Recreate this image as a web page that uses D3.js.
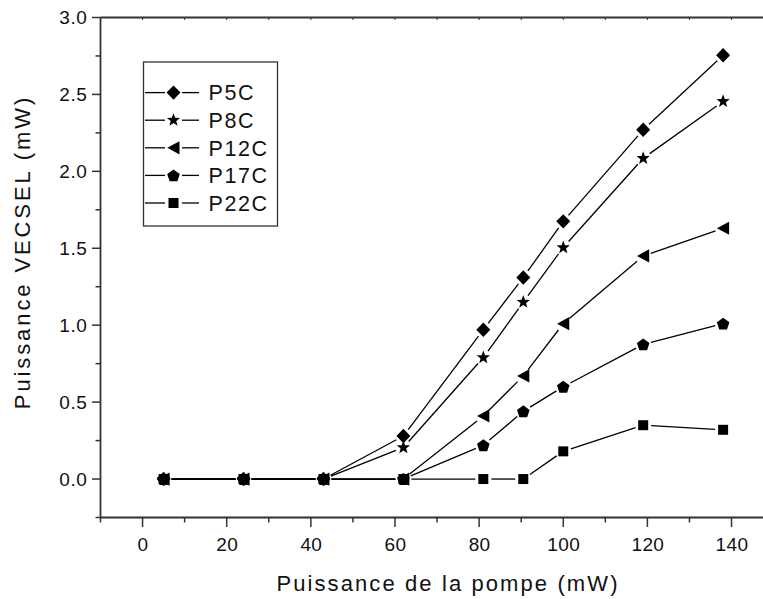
<!DOCTYPE html>
<html>
<head>
<meta charset="utf-8">
<script src="https://cdn.jsdelivr.net/npm/d3@7"></script>
<style>
html,body{margin:0;padding:0;background:#fff;}
svg{display:block;}
text{font-family:"Liberation Sans",Arial,sans-serif;fill:#111;}
</style>
</head>
<body>
<svg id="chart" width="763" height="599"></svg>
<script>
// ---- data ----
const pump = [5, 24, 43, 62, 81, 90.5, 100, 119, 138];
const seriesNames = ["P5C", "P8C", "P12C", "P17C", "P22C"];
const p5c  = [0, 0, 0, 0.28, 0.97, 1.31, 1.675, 2.27, 2.755];
const p8c  = [0, 0, 0, 0.205, 0.79, 1.15, 1.505, 2.085, 2.455];
const p12c = [0, 0, 0, 0, 0.41, 0.67, 1.01, 1.45, 1.63];
const p17c = [0, 0, 0, 0, 0.22, 0.44, 0.60, 0.875, 1.01];
const p22c = [0, 0, 0, 0, 0, 0, 0.18, 0.35, 0.32];
const seriesValues = [p5c, p8c, p12c, p17c, p22c];
const xTicks = [0, 20, 40, 60, 80, 100, 120, 140];
const yTicks = [0.0, 0.5, 1.0, 1.5, 2.0, 2.5, 3.0];

// ---- layout ----
const svg = d3.select("#chart");
const x = d3.scaleLinear().domain([-10, 150]).range([100.5, 773.6]);
const y = d3.scaleLinear().domain([-0.25, 3.0]).range([517.5, 17.5]);
const axisColor = "#333";

// symbols
const star = (() => {
  const pts = [];
  for (let i = 0; i < 10; i++) {
    const r = i % 2 === 0 ? 7 : 2.9;
    const a = -Math.PI / 2 + i * Math.PI / 5;
    pts.push([r * Math.cos(a), r * Math.sin(a)]);
  }
  return "M" + pts.map(p => p[0].toFixed(2) + "," + p[1].toFixed(2)).join("L") + "Z";
})();
const pentagon = (() => {
  const pts = [];
  for (let i = 0; i < 5; i++) {
    const a = -Math.PI / 2 + i * 2 * Math.PI / 5;
    pts.push([6.6 * Math.cos(a), 6.6 * Math.sin(a) + 0.6]);
  }
  return "M" + pts.map(p => p[0].toFixed(2) + "," + p[1].toFixed(2)).join("L") + "Z";
})();
const symbols = [
  "M0,-7.2L7,0L0,7.2L-7,0Z",
  star,
  "M-6.2,0L6,-6.6L6,6.6Z",
  pentagon,
  "M-5,-5L5,-5L5,5L-5,5Z"
];

// ---- axes ----
// bottom axis
const gx = svg.append("g").attr("transform", `translate(0,${y(-0.25)})`);
gx.append("line").attr("x1", x(-10)).attr("x2", x(150)).attr("stroke", axisColor).attr("stroke-width", 1.8);
gx.selectAll(".minor").data(d3.range(-10, 151, 10).filter(v => v % 20 !== 0)).join("line")
  .attr("x1", d => x(d)).attr("x2", d => x(d)).attr("y1", 0).attr("y2", 5)
  .attr("stroke", axisColor).attr("stroke-width", 1.5);
gx.selectAll(".major").data(xTicks).join("line")
  .attr("x1", d => x(d)).attr("x2", d => x(d)).attr("y1", 0).attr("y2", 9.5)
  .attr("stroke", axisColor).attr("stroke-width", 1.5);
gx.selectAll("text").data(xTicks).join("text")
  .attr("x", d => x(d) + 0.5).attr("y", 33.5)
  .attr("text-anchor", "middle").attr("font-size", 19).attr("letter-spacing", 0.4)
  .text(d => d);

// top axis
const gt = svg.append("g").attr("transform", `translate(0,${y(3)})`);
gt.append("line").attr("x1", x(-10)).attr("x2", x(150)).attr("stroke", axisColor).attr("stroke-width", 1.8);
gt.selectAll(".t").data(d3.range(0, 151, 10)).join("line")
  .attr("x1", d => x(d)).attr("x2", d => x(d)).attr("y1", 0).attr("y2", 2.5)
  .attr("stroke", axisColor).attr("stroke-width", 1);

// left axis
const gy = svg.append("g").attr("transform", `translate(${x(-10)},0)`);
gy.append("line").attr("y1", y(-0.25)).attr("y2", y(3)).attr("stroke", axisColor).attr("stroke-width", 1.8);
gy.selectAll(".minor").data(d3.range(-0.25, 3.0, 0.5)).join("line")
  .attr("x1", 0).attr("x2", -5).attr("y1", d => y(d)).attr("y2", d => y(d))
  .attr("stroke", axisColor).attr("stroke-width", 1.5);
gy.selectAll(".major").data(yTicks).join("line")
  .attr("x1", 0).attr("x2", -8.5).attr("y1", d => y(d)).attr("y2", d => y(d))
  .attr("stroke", axisColor).attr("stroke-width", 1.5);
gy.selectAll("text").data(yTicks).join("text")
  .attr("x", -13).attr("y", d => y(d)).attr("dy", "0.36em")
  .attr("text-anchor", "end").attr("font-size", 19).attr("letter-spacing", 0.6)
  .text(d => d.toFixed(1));

// axis titles
svg.append("text").attr("x", 448).attr("y", 591)
  .attr("text-anchor", "middle").attr("font-size", 22).attr("letter-spacing", 2.1)
  .text("Puissance de la pompe (mW)");
svg.append("text").attr("transform", "translate(30,252) rotate(-90)")
  .attr("text-anchor", "middle").attr("font-size", 22).attr("letter-spacing", 2.9)
  .text("Puissance VECSEL (mW)");

// ---- series ----
const gap = 8;
const plot = svg.append("g");
seriesValues.forEach((vals, si) => {
  const pts = pump.map((p, i) => [x(p), y(vals[i])]);
  const segs = [];
  for (let i = 0; i < pts.length - 1; i++) {
    const [x1, y1] = pts[i], [x2, y2] = pts[i + 1];
    const dx = x2 - x1, dy = y2 - y1, L = Math.hypot(dx, dy);
    if (L <= 2 * gap) continue;
    const ux = dx / L, uy = dy / L;
    segs.push([x1 + ux * gap, y1 + uy * gap, x2 - ux * gap, y2 - uy * gap]);
  }
  const g = plot.append("g");
  g.selectAll("line").data(segs).join("line")
    .attr("x1", d => d[0]).attr("y1", d => d[1]).attr("x2", d => d[2]).attr("y2", d => d[3])
    .attr("stroke", "#000").attr("stroke-width", vals => 1.3);
  g.selectAll("path").data(pts).join("path")
    .attr("d", symbols[si]).attr("transform", d => `translate(${d[0]},${d[1]})`)
    .attr("fill", "#000");
});

// ---- legend ----
const lg = svg.append("g");
lg.append("rect").attr("x", 143.5).attr("y", 62).attr("width", 134).attr("height", 164)
  .attr("fill", "none").attr("stroke", axisColor).attr("stroke-width", 1.3);
seriesNames.forEach((name, i) => {
  const cy = 92.6 + i * 27.6;
  lg.append("line").attr("x1", 145).attr("x2", 165).attr("y1", cy).attr("y2", cy)
    .attr("stroke", "#000").attr("stroke-width", 1.3);
  lg.append("line").attr("x1", 182).attr("x2", 199).attr("y1", cy).attr("y2", cy)
    .attr("stroke", "#000").attr("stroke-width", 1.3);
  lg.append("path").attr("d", symbols[i]).attr("transform", `translate(173.5,${cy})`).attr("fill", "#000");
  lg.append("text").attr("x", 208.5).attr("y", cy).attr("dy", "0.36em")
    .attr("font-size", 21.5).attr("letter-spacing", 1.6).text(name);
});
</script>
</body>
</html>
